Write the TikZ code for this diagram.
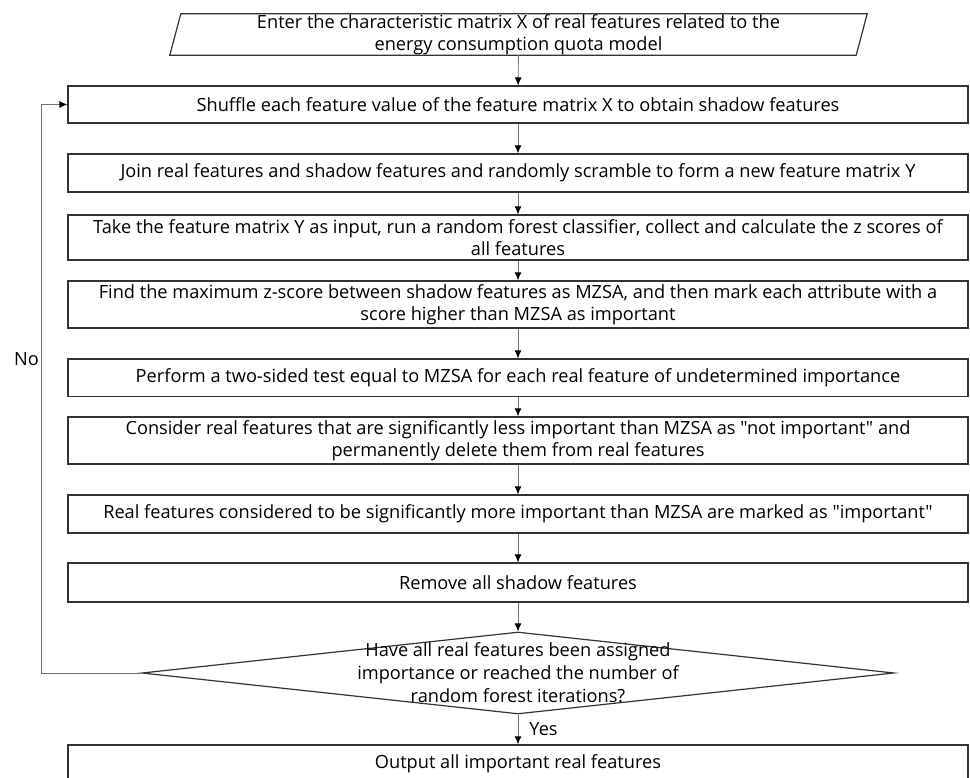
\documentclass[tikz,border=0pt]{standalone}
\usepackage{fontspec}
\setmainfont{Open Sans}[Ligatures=TeXOff]
\usetikzlibrary{arrows.meta,shapes.geometric}

\begin{document}
\begin{tikzpicture}[x=1pt,y=-1pt,
  every node/.style={font=\fontsize{18.2}{21.5}\selectfont, text=black, inner sep=0pt},
  procbox/.style={draw=black!80, line width=1.2pt, minimum width=900pt, align=center},
  boxline/.style={draw=black!80, line width=1.2pt},
  flow/.style={draw=black!55, line width=0.9pt, -{Latex[length=8pt,width=7pt,color=black]}}
]
\useasboundingbox (0,0) rectangle (970,778);

% input (parallelogram drawn around the text node)
\node[minimum width=686pt, minimum height=41pt, align=center] (in) at (518.5,34.5)
  {Enter the characteristic matrix X of real features related to the\\energy consumption quota model};
\draw[boxline] ([xshift=5.5pt]in.north west) -- ([xshift=5.5pt]in.north east)
  -- ([xshift=-5.5pt]in.south east) -- ([xshift=-5.5pt]in.south west) -- cycle;

% process steps
\node[procbox, minimum height=37pt] (s1) at (518,104.5)
  {Shuffle each feature value of the feature matrix X to obtain shadow features};
\node[procbox, minimum height=38pt] (s2) at (518,173)
  {Join real features and shadow features and randomly scramble to form a new feature matrix Y};
\node[procbox, minimum height=45pt] (s3) at (518,237.5)
  {Take the feature matrix Y as input, run a random forest classifier, collect and calculate the z scores of\\all features};
\node[procbox, minimum height=47pt] (s4) at (518,304.5)
  {Find the maximum z-score between shadow features as MZSA, and then mark each attribute with a\\score higher than MZSA as important};
\node[procbox, minimum height=37.5pt] (s5) at (518,377.75)
  {Perform a two-sided test equal to MZSA for each real feature of undetermined importance};
\node[procbox, minimum height=47pt] (s6) at (518,440.5)
  {Consider real features that are significantly less important than MZSA as "not important" and\\permanently delete them from real features};
\node[procbox, minimum height=38pt] (s7) at (518,514)
  {Real features considered to be significantly more important than MZSA are marked as "important"};
\node[procbox, minimum height=39pt] (s8) at (518,582.5)
  {Remove all shadow features};

% decision
\node[diamond, boxline, minimum width=752pt, minimum height=82pt, inner sep=0pt] (dec) at (518,673) {};
\node[align=center, font=\fontsize{18.2}{23}\selectfont] (dectext) at (518,673)
  {Have all real features been assigned\\importance or reached the number of\\random forest iterations?};

% output
\node[procbox, minimum height=38pt] (out) at (518,764)
  {Output all important real features};

% connectors
\draw[flow] (in) -- (s1);
\draw[flow] (s1) -- (s2);
\draw[flow] (s2) -- (s3);
\draw[flow] (s3) -- (s4);
\draw[flow] (s4) -- (s5);
\draw[flow] (s5) -- (s6);
\draw[flow] (s6) -- (s7);
\draw[flow] (s7) -- (s8);
\draw[flow] (s8) -- (dec);
\draw[flow] (dec.south) -- node[right=11pt] (yes) {Yes} (out.north);

% loop back
\coordinate (loopx) at (41,0);
\draw[flow] (dec.west) -- (dec.west -| loopx) |- (s1.west);
\node[anchor=east] (no) at (39,359) {No};
\end{tikzpicture}
\end{document}
